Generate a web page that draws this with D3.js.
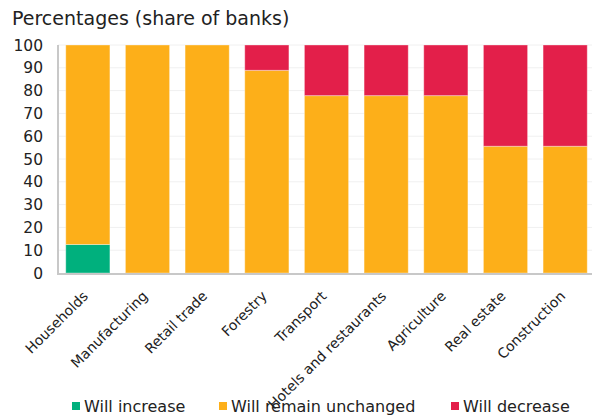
<!DOCTYPE html>
<html>
<head>
<meta charset="utf-8">
<script src="https://cdn.jsdelivr.net/npm/d3@7"></script>
<style>
  body { margin: 0; background: #fff; }
  text { font-family: "DejaVu Sans", Verdana, sans-serif; fill: #222; }
</style>
</head>
<body>
<svg id="chart" width="592" height="417"></svg>
<script>
// sectors and shares (percent of banks)
var sectors = ["Households", "Manufacturing", "Retail trade", "Forestry", "Transport",
  "Hotels and restaurants", "Agriculture", "Real estate", "Construction"];
var willIncrease = [12.5, 0, 0, 0, 0, 0, 0, 0, 0];
var willRemain = [87.5, 100, 100, 88.9, 77.8, 77.8, 77.8, 55.6, 55.6];
var willDecrease = [0, 0, 0, 11.1, 22.2, 22.2, 22.2, 44.4, 44.4];
var seriesNames = ["Will increase", "Will remain unchanged", "Will decrease"];
var yTicks = [0, 10, 20, 30, 40, 50, 60, 70, 80, 90, 100];

var colours = ["#00b07d", "#fdaf19", "#e31f4a"];

var svg = d3.select("#chart");
var plotLeft = 58, plotRight = 595, plotTop = 45, plotBottom = 273;

var x = d3.scaleBand().domain(sectors).range([plotLeft, plotRight]).paddingInner(0.26).paddingOuter(0.13);
var y = d3.scaleLinear().domain([0, 100]).range([plotBottom, plotTop]);

// title
svg.append("text")
  .attr("x", 12).attr("y", 25)
  .attr("font-size", 19)
  .text("Percentages (share of banks)");

// gridlines
svg.append("g").selectAll("line")
  .data(yTicks.slice(1))
  .enter().append("line")
  .attr("x1", plotLeft).attr("x2", plotRight)
  .attr("y1", function (d) { return y(d); })
  .attr("y2", function (d) { return y(d); })
  .attr("stroke", "#f0f0f0")
  .attr("stroke-width", 1);

// y tick labels
svg.append("g").selectAll("text")
  .data(yTicks)
  .enter().append("text")
  .attr("x", 43)
  .attr("y", function (d) { return y(d); })
  .attr("dy", "0.36em")
  .attr("text-anchor", "end")
  .attr("font-size", 15.5)
  .text(function (d) { return d; });

// stacked bars
var rows = sectors.map(function (s, i) {
  return { sector: s, a: willIncrease[i], b: willRemain[i], c: willDecrease[i] };
});
var stack = d3.stack().keys(["a", "b", "c"])(rows);

svg.append("g").selectAll("g")
  .data(stack)
  .enter().append("g")
  .attr("fill", function (d, i) { return colours[i]; })
  .selectAll("rect")
  .data(function (d) { return d.filter(function (p) { return p[1] - p[0] > 0; }); })
  .enter().append("rect")
  .attr("x", function (d) { return x(d.data.sector); })
  .attr("y", function (d) { return y(d[1]); })
  .attr("width", x.bandwidth())
  .attr("height", function (d) { return y(d[0]) - y(d[1]); })
  .attr("stroke", "rgba(255,255,255,0.35)")
  .attr("stroke-width", 1);

// axis lines
svg.append("line")
  .attr("x1", plotLeft).attr("x2", plotLeft)
  .attr("y1", plotTop).attr("y2", plotBottom + 1)
  .attr("stroke", "#c8c8c8").attr("stroke-width", 2);
svg.append("line")
  .attr("x1", plotLeft - 1).attr("x2", plotRight)
  .attr("y1", plotBottom + 1).attr("y2", plotBottom + 1)
  .attr("stroke", "#c8c8c8").attr("stroke-width", 2);

// x labels, rotated
svg.append("g").selectAll("text")
  .data(sectors)
  .enter().append("text")
  .attr("font-size", 14)
  .attr("text-anchor", "end")
  .attr("transform", function (d) {
    var cx = x(d) + x.bandwidth() / 2 + 1;
    return "translate(" + cx + "," + 297 + ") rotate(-45)";
  })
  .text(function (d) { return d; });

// legend
var legendX = [72, 219, 451];
var legend = svg.append("g").selectAll("g")
  .data(seriesNames)
  .enter().append("g")
  .attr("transform", function (d, i) { return "translate(" + legendX[i] + ",402)"; });
legend.append("rect")
  .attr("width", 8).attr("height", 8)
  .attr("fill", function (d, i) { return colours[i]; });
legend.append("text")
  .attr("x", 12).attr("y", 9.7)
  .attr("font-size", 16)
  .text(function (d) { return d; });
</script>
</body>
</html>
